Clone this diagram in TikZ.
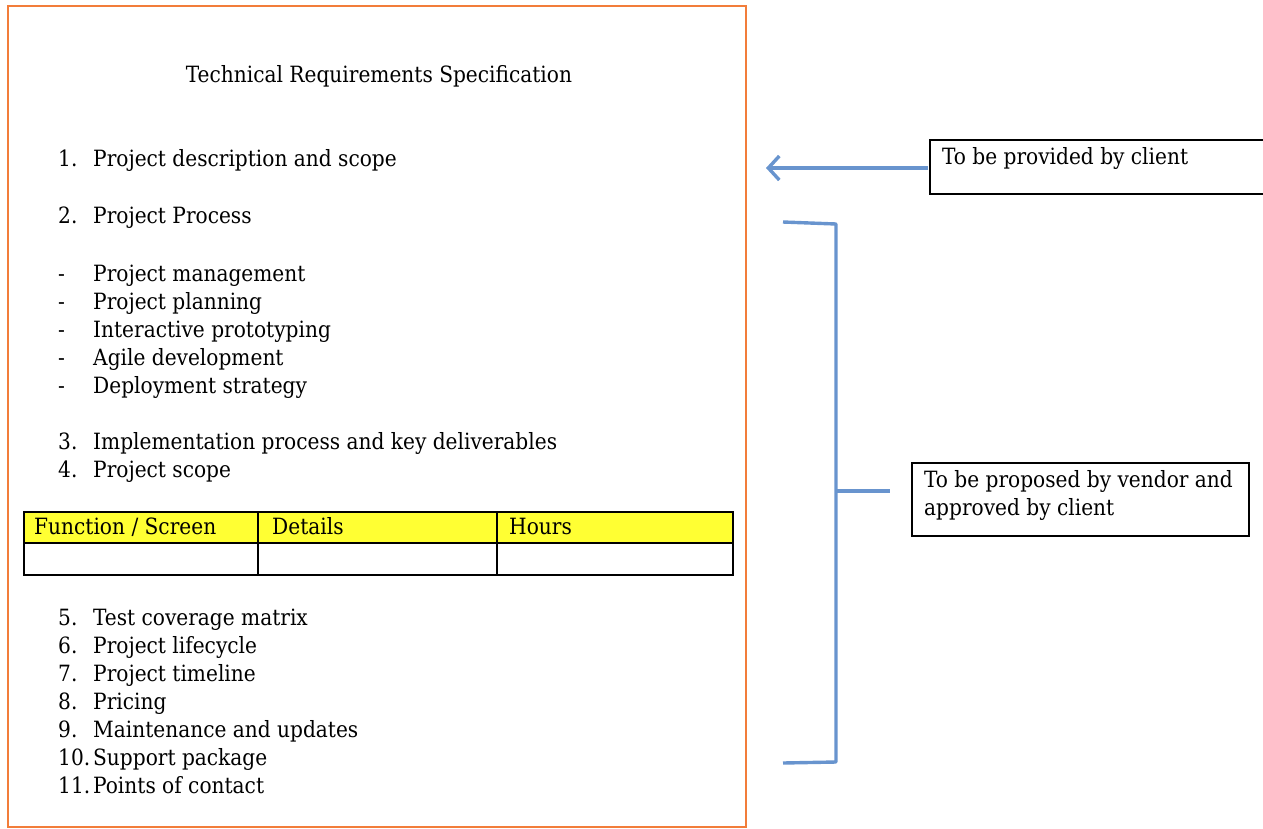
\documentclass[tikz,border=0pt]{standalone}
\usepackage{fontspec}
\setmainfont{DejaVuSerifCondensed.ttf}
\usetikzlibrary{arrows.meta}
\definecolor{framecol}{RGB}{242,125,58}
\definecolor{linkcol}{RGB}{104,148,206}
\definecolor{headfill}{RGB}{255,255,51}
\begin{document}
\begin{tikzpicture}[x=1pt,y=-1pt,
  txt/.style={inner sep=0pt,anchor=base west,font=\fontsize{22.4}{28}\selectfont},
  num/.style={txt},
  lbl/.style={txt},
  frame/.style={draw=framecol,line width=2pt},
  grid/.style={draw=black,line width=1.4pt},
  link/.style={draw=linkcol,line width=3.4pt},
  note/.style={draw=black,line width=1.6pt}]
\useasboundingbox (0,0) rectangle (1263,828);
% document frame
\draw[frame] (8,6) rectangle (746,827);
% title
\node[txt,anchor=base] (title) at (379,82) {Technical Requirements Specification};
% numbered and dashed items
\node[num] (n1) at (58,166) {1.};
\node[txt] (t1) at (93,166) {Project description and scope};
\node[num] (n2) at (58,223) {2.};
\node[txt] (t2) at (93,223) {Project Process};
\foreach \y/\s [count=\i] in {281/Project management,309/Project planning,337/Interactive prototyping,365/Agile development,393/Deployment strategy}{
  \node[num] (d\i) at (58,\y) {-};
  \node[txt] (s\i) at (93,\y) {\s};
}
\node[num] (n3) at (58,449) {3.};
\node[txt] (t3) at (93,449) {Implementation process and key deliverables};
\node[num] (n4) at (58,477) {4.};
\node[txt] (t4) at (93,477) {Project scope};
% table
\fill[headfill] (24,512) rectangle (733,543);
\draw[grid] (24,512) rectangle (733,575);
\draw[grid] (24,543) -- (733,543);
\draw[grid] (258,512) -- (258,575);
\draw[grid] (497,512) -- (497,575);
\node[txt] (h1) at (34,534) {Function / Screen};
\node[txt] (h2) at (272,534) {Details};
\node[txt] (h3) at (509,534) {Hours};
% remaining items
\foreach \y/\n/\s in {625/5./Test coverage matrix,653/6./Project lifecycle,681/7./Project timeline,709/8./Pricing,737/9./Maintenance and updates,765/10./Support package,793/11./Points of contact}{
  \node[num] (m\n) at (58,\y) {\n};
  \node[txt] (u\n) at (93,\y) {\s};
}
% client note and arrow
\draw[note] (930,140) rectangle (1270,194);
\node[lbl] (c1) at (942,164) {To be provided by client};
\coordinate (cA) at (928,168);
\coordinate (cB) at (766,168);
\draw[link,-{Straight Barb[length=11pt,width=24pt]}] (cA) -- (cB);
% vendor note and bracket
\draw[note] (912,463) rectangle (1249,536);
\node[lbl] (v1) at (924,487) {To be proposed by vendor and};
\node[lbl] (v2) at (924,515) {approved by client};
\coordinate (bT) at (783,222);
\coordinate (bTR) at (836,224);
\coordinate (bBR) at (836,762);
\coordinate (bB) at (783,763);
\coordinate (bM) at (836,491);
\coordinate (bMR) at (890,491);
\draw[link,line join=round] (bT) -- (bTR) -- (bBR) -- (bB);
\draw[link] (bM) -- (bMR);
\end{tikzpicture}
\end{document}
